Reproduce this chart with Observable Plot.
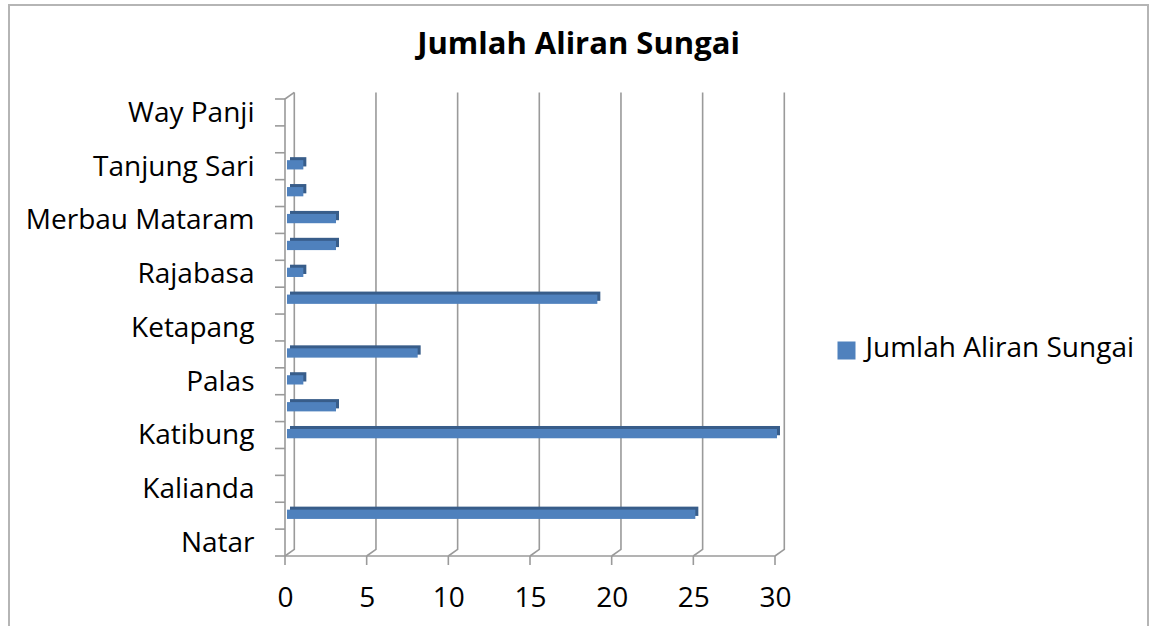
<!DOCTYPE html>
<html>
<head>
<meta charset="utf-8">
<script src="https://cdn.jsdelivr.net/npm/d3@7"></script>
<script src="https://cdn.jsdelivr.net/npm/@observablehq/plot@0.6"></script>
<style>
  html, body { margin: 0; padding: 0; background: #fff; }
  #wrap { position: relative; width: 1149px; height: 626px; overflow: hidden; }
  #chart svg { display: block; }
  #border { position: absolute; left: 8px; top: 4px; width: 1141px; height: 660px;
            border: 2px solid #b5b5b5; box-sizing: border-box; pointer-events: none; }
</style>
</head>
<body>
<div id="wrap"><div id="chart"></div><div id="border"></div></div>
<script>
// ---- data (bottom to top, as in the source chart) ----
const categories = ["Natar", "Jati Agung", "Kalianda", "Tanjung Bintang", "Katibung", "Sidomulyo",
  "Palas", "Sragi", "Ketapang", "Penengahan", "Rajabasa", "Bakauheni", "Merbau Mataram",
  "Candipuro", "Tanjung Sari", "Way Sulan", "Way Panji"];
const values = [0, 25, 0, 0, 30, 3, 1, 8, 0, 19, 1, 3, 3, 1, 1, 0, 0];
const labeledCategories = ["Natar", "Kalianda", "Katibung", "Palas", "Ketapang", "Rajabasa",
  "Merbau Mataram", "Tanjung Sari", "Way Panji"];
const xTicks = [0, 5, 10, 15, 20, 25, 30];
const seriesName = "Jumlah Aliran Sungai";
const chartTitle = "Jumlah Aliran Sungai";

const data = categories.map((name, i) => ({name, value: values[i]}));

// ---- style ----
const BLUE = "#4F81BD", DARK = "#385D8A", GRID = "#9a9a9a";
const FONT = "'Open Sans', sans-serif";
const D = {dx: 9.3, dy: -6.6}; // 3D depth offset of the back wall

// 3D wall / floor / axis lines drawn from the plot's own scales
function wall(index, scales, vals, dims) {
  const x = scales.x, y = scales.y;
  const top = dims.marginTop, bottom = dims.height - dims.marginBottom;
  const left = x(0);
  const g = d3.create("svg:g").attr("fill", "none").attr("stroke", GRID).attr("stroke-width", 1.6);
  // back-wall gridlines with floor diagonals
  for (const t of xTicks) {
    const px = x(t);
    g.append("path").attr("d", `M${px},${bottom}L${px + D.dx},${bottom + D.dy}L${px + D.dx},${top + D.dy}`);
    g.append("line").attr("x1", px).attr("x2", px).attr("y1", bottom).attr("y2", bottom + 9);
  }
  // floor front edge
  g.append("line").attr("x1", left).attr("x2", x(xTicks[xTicks.length - 1])).attr("y1", bottom).attr("y2", bottom);
  // left axis line and top diagonal
  g.append("path").attr("d", `M${left + D.dx},${top + D.dy}L${left},${top}L${left},${bottom}`);
  // y tick marks at band boundaries
  const bounds = categories.map(c => y(c)).concat([bottom]);
  for (const b of bounds) {
    g.append("line").attr("x1", left - 10).attr("x2", left).attr("y1", b).attr("y2", b);
  }
  return g.node();
}

const bars = data.filter(d => d.value > 0);

const plot = Plot.plot({
  width: 1149,
  height: 626,
  marginLeft: 285,
  marginRight: 374,
  marginTop: 99,
  marginBottom: 70,
  style: {fontFamily: FONT, background: "transparent", overflow: "visible"},
  x: {domain: [0, 30], nice: false},
  y: {domain: categories.slice().reverse(), padding: 0, round: false},
  marks: [
    wall,
    // side/top faces of the 3D bars
    Plot.barX(bars, {x: "value", y: "name", fill: DARK, insetTop: 7.4, insetBottom: 10.2, dx: 5, dy: -3}),
    // front faces
    Plot.barX(bars, {x: "value", y: "name", fill: BLUE, insetTop: 7.4, insetBottom: 10.2, dx: 2}),
    Plot.axisX({ticks: xTicks, tickSize: 0, tickPadding: 31, fontSize: 28, fill: "#000", label: null}),
    Plot.axisY({ticks: labeledCategories, tickSize: 0, tickPadding: 31, fontSize: 28, fill: "#000", label: null}),
    // title
    Plot.text([chartTitle], {frameAnchor: "top", lineAnchor: "middle", textAnchor: "middle",
      dx: 48, dy: -55, fontSize: 31, fontWeight: "bold", fill: "#000"}),
    // legend
    Plot.dot([seriesName], {frameAnchor: "right", dx: 71, dy: 22.5, symbol: "square", r: 10.16, fill: BLUE, stroke: "none"}),
    Plot.text([seriesName], {frameAnchor: "right", textAnchor: "start", lineAnchor: "middle",
      dx: 90, dy: 20.5, fontSize: 28, fill: "#000"})
  ]
});
document.getElementById("chart").appendChild(plot);
</script>
</body>
</html>
